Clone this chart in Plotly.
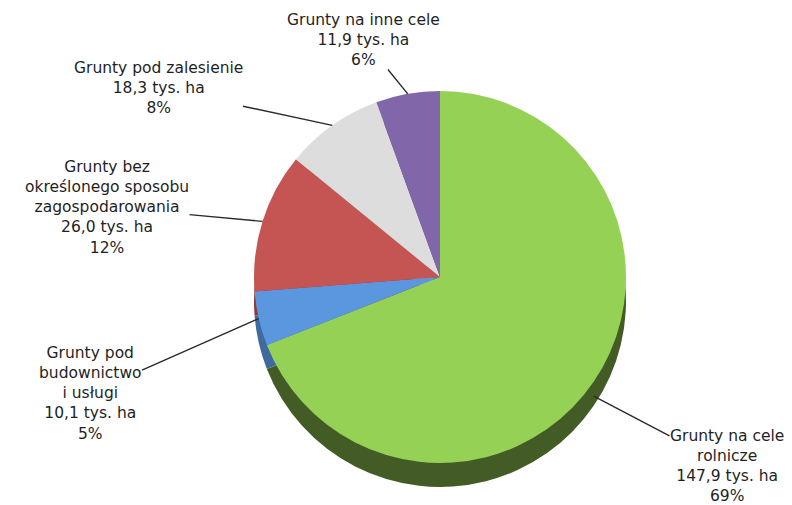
import math
import plotly.graph_objects as go

# ---- data ----
labels = [
    "Grunty na cele rolnicze",
    "Grunty pod budownictwo i usługi",
    "Grunty bez określonego sposobu zagospodarowania",
    "Grunty pod zalesienie",
    "Grunty na inne cele",
]
label_lines = [
    "Grunty na cele<br>rolnicze",
    "Grunty pod<br>budownictwo<br>i usługi",
    "Grunty bez<br>określonego sposobu<br>zagospodarowania",
    "Grunty pod zalesienie",
    "Grunty na inne cele",
]
values = [147.9, 10.1, 26.0, 18.3, 11.9]
value_text = ["147,9", "10,1", "26,0", "18,3", "11,9"]
pct_text = ["69%", "5%", "12%", "8%", "6%"]

# ---- style ----
colors = ["#95D155", "#5B97DE", "#C55552", "#DDDDDD", "#8166A9"]
rim_colors = ["#435C25", "#3E6AA0", "#8A3A38", "#A0A0A0", "#5A4878"]
W, H = 792, 505
cx, cy, R, depth = 440, 277, 186, 24
label_pos = [(727, 466), (90, 393), (107, 207), (158, 88), (364, 40)]

def dom(cy_px):
    return dict(
        x=[(cx - R) / W, (cx + R) / W],
        y=[1 - (cy_px + R) / H, 1 - (cy_px - R) / H],
    )

fig = go.Figure()
fig.add_trace(go.Pie(
    labels=labels, values=values, sort=False, direction="clockwise", rotation=0,
    marker=dict(colors=rim_colors, line=dict(width=0)),
    textinfo="none", hoverinfo="skip", showlegend=False, domain=dom(cy + depth),
))
fig.add_trace(go.Pie(
    labels=labels, values=values, sort=False, direction="clockwise", rotation=0,
    marker=dict(colors=colors, line=dict(width=0)),
    textinfo="none", showlegend=False, domain=dom(cy),
    customdata=[f"{v} tys. ha" for v in value_text],
    hovertemplate="%{label}<br>%{customdata}<extra></extra>",
))

total = sum(values)
cum = 0.0
for i, v in enumerate(values):
    mid = (cum + v / 2) / total * 2 * math.pi
    cum += v
    tx = cx + R * math.sin(mid)
    ty = cy - R * math.cos(mid)
    if i == 0:
        ty += depth * 0.6
    lx, ly = label_pos[i]
    fig.add_annotation(
        x=tx / W, y=1 - ty / H, xref="paper", yref="paper",
        ax=lx - tx, ay=ly - ty, axref="pixel", ayref="pixel",
        text=f"{label_lines[i]}<br>{value_text[i]} tys. ha<br>{pct_text[i]}",
        showarrow=True, arrowhead=0, arrowwidth=1.4, arrowcolor="#2a2a2a",
        align="center", borderpad=0,
        font=dict(family="DejaVu Sans", size=15.5, color="#1f1f1f"),
    )

fig.update_layout(
    width=W, height=H, margin=dict(l=0, r=0, t=0, b=0),
    paper_bgcolor="white", plot_bgcolor="white",
)
fig.write_html(
    "out.html",
    config={"displayModeBar": False},
    post_script="document.body.style.margin='0';document.body.style.overflow='hidden';",
)
